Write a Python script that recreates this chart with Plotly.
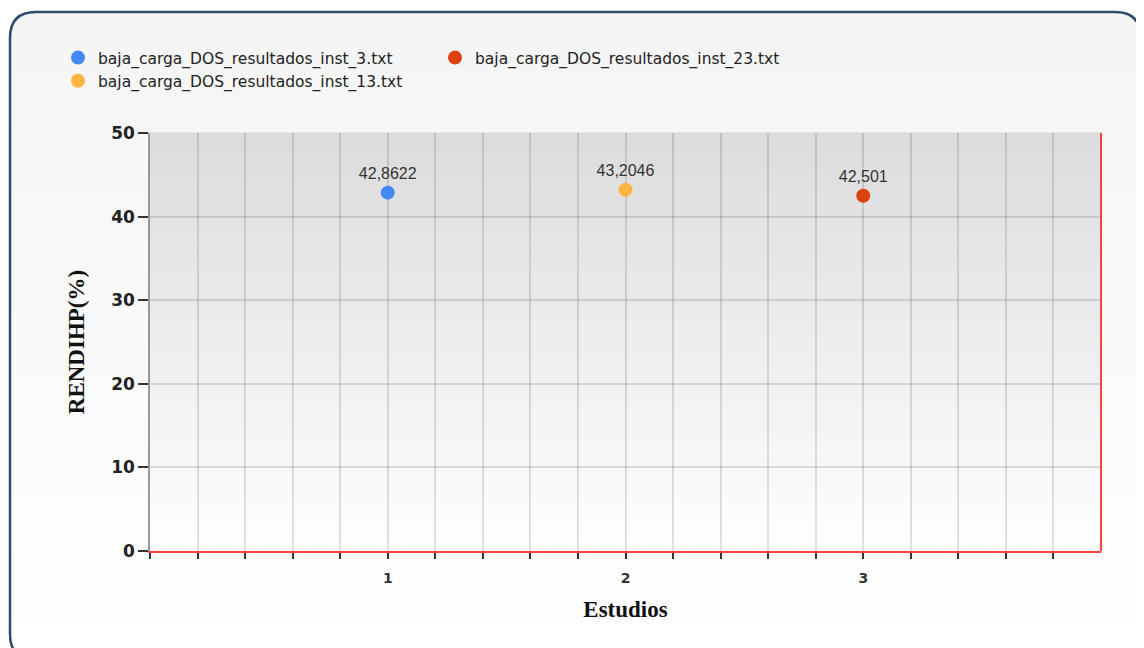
import plotly.graph_objects as go

# ---- data ----
series_names = [
    "baja_carga_DOS_resultados_inst_3.txt",
    "baja_carga_DOS_resultados_inst_13.txt",
    "baja_carga_DOS_resultados_inst_23.txt",
]
estudios = [1, 2, 3]
rendihp = [42.8622, 43.2046, 42.501]
colors = ["#4289f4", "#fdb540", "#df4010"]
legend_ranks = [1, 3, 2]

x_tick_vals = [i / 5 for i in range(20)]
x_tick_text = ["1" if v == 1 else "2" if v == 2 else "3" if v == 3 else "" for v in x_tick_vals]
y_tick_vals = [0, 10, 20, 30, 40, 50]

OFF = 8  # page body offset
W, H = 1136, 640
L, R, T, B = 142, 43, 125, 97
PW, PH = W - L - R, H - T - B


def px(x):  # screen px -> paper
    return (x - OFF - L) / PW


def py(y):
    return (H - B - (y - OFF)) / PH


fig = go.Figure()
for name, xv, yv, c, rk in zip(series_names, estudios, rendihp, colors, legend_ranks):
    fig.add_trace(go.Scatter(
        x=[xv], y=[yv], mode="markers+text", name=name,
        text=[str(yv).replace(".", ",")], textposition="top center",
        textfont=dict(family="Liberation Sans, Arial", size=16, color="#333333"),
        marker=dict(color=c, size=14, line=dict(width=0)),
        legendrank=rk, cliponaxis=False,
    ))

shapes = []
# outer rounded panel
x0, y0, x1, y1, r = 10, 12, 1141, 660, 26
pth = (f"M {px(x0+r)},{py(y0)} L {px(x1-r)},{py(y0)} Q {px(x1)},{py(y0)} {px(x1)},{py(y0+r)} "
       f"L {px(x1)},{py(y1-r)} Q {px(x1)},{py(y1)} {px(x1-r)},{py(y1)} "
       f"L {px(x0+r)},{py(y1)} Q {px(x0)},{py(y1)} {px(x0)},{py(y1-r)} "
       f"L {px(x0)},{py(y0+r)} Q {px(x0)},{py(y0)} {px(x0+r)},{py(y0)} Z")
shapes.append(dict(type="path", path=pth, xref="paper", yref="paper", layer="below",
                   fillcolor="#f5f5f5", line=dict(width=0)))
# panel gradient (top grey -> white bottom)
NP = 40
ys0, ys1 = 38, 650
for i in range(NP):
    t = i / (NP - 1)
    v = int(round(245 + (255 - 245) * t))
    ya = ys0 + (ys1 - ys0) * i / NP
    yb = ys0 + (ys1 - ys0) * (i + 1) / NP + 1
    shapes.append(dict(type="rect", xref="paper", yref="paper", layer="below",
                       x0=px(x0 + 1), x1=px(x1 - 1), y0=py(yb), y1=py(ya),
                       fillcolor=f"rgb({v},{v},{v})", line=dict(width=0)))
shapes.append(dict(type="path", path=pth, xref="paper", yref="paper", layer="below",
                   fillcolor="rgba(0,0,0,0)", line=dict(color="#2e4a6c", width=2.5)))
# plot-area gradient background bands
N = 60
for i in range(N):
    t = i / N
    v = int(round(220 + (255 - 220) * t))
    shapes.append(dict(type="rect", xref="x domain", yref="y domain", layer="below",
                       x0=0, x1=1, y0=1 - (i + 1) / N, y1=1 - i / N + 0.002,
                       fillcolor=f"rgb({v},{v},{v})", line=dict(width=0)))
# right red border
shapes.append(dict(type="line", xref="x domain", yref="y domain", x0=1, x1=1, y0=0, y1=1,
                   line=dict(color="#ff4040", width=2), layer="above"))

fig.update_layout(
    width=W, height=H,
    margin=dict(l=L, r=R, t=T, b=B),
    paper_bgcolor="white", plot_bgcolor="rgba(0,0,0,0)",
    shapes=shapes,
    showlegend=True,
    legend=dict(orientation="h", x=px(58), y=py(41), xanchor="left", yanchor="top",
                entrywidth=332, entrywidthmode="pixels",
                font=dict(family="DejaVu Sans", size=15.5, color="#222222"),
                bgcolor="rgba(0,0,0,0)", itemclick=False),
    xaxis=dict(range=[0, 4], tickmode="array", tickvals=x_tick_vals, ticktext=x_tick_text,
               showgrid=True, gridcolor="rgba(0,0,0,0.12)", gridwidth=1.5,
               ticks="outside", ticklen=6, tickcolor="#333333", tickwidth=1.5,
               showline=True, linecolor="#ff4040", linewidth=2,
               zeroline=False, ticklabelstandoff=7,
               tickfont=dict(family="DejaVu Sans", size=14, color="#333333", weight="bold"),
               title=dict(text="Estudios", standoff=16,
                          font=dict(family="Liberation Serif", size=23, color="#111111", weight="bold"))),
    yaxis=dict(range=[0, 50], tickmode="array", tickvals=y_tick_vals,
               showgrid=True, gridcolor="rgba(0,0,0,0.12)", gridwidth=1.5,
               ticks="outside", ticklen=10, tickcolor="#333333", tickwidth=1.5,
               showline=True, linecolor="#999999", linewidth=1.5,
               zeroline=False,
               tickfont=dict(family="DejaVu Sans", size=17, color="#222222", weight="bold"),
               title=dict(text="RENDIHP(%)", standoff=20,
                          font=dict(family="Liberation Serif", size=23, color="#111111", weight="bold"))),
)

fig.write_html("out.html")
